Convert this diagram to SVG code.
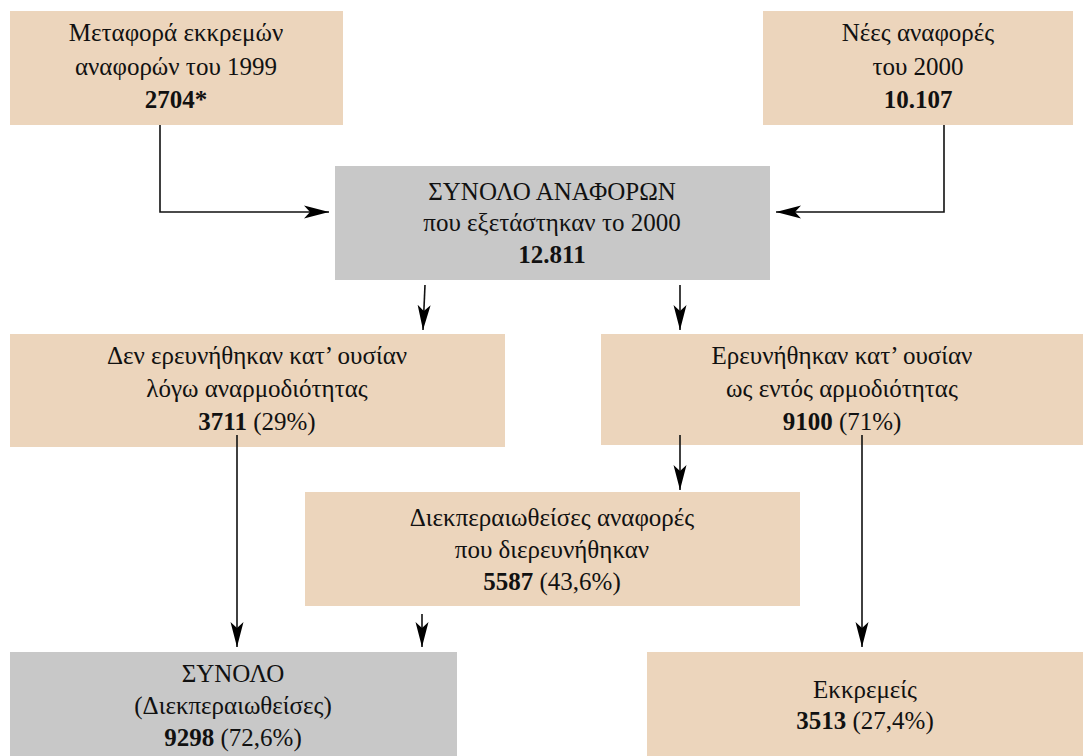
<svg xmlns="http://www.w3.org/2000/svg" width="1083" height="756" viewBox="0 0 1083 756">
<style>
.tan{fill:#ECD5BC}
.grey{fill:#C8C8C8}
text{font-family:"Liberation Serif","DejaVu Serif",serif;font-size:25px;fill:#111;text-anchor:middle}
.b{font-weight:bold}
.c{stroke:#111;stroke-width:1.6;fill:none;marker-end:url(#ah)}
</style>
<defs>
<marker id="ah" markerUnits="userSpaceOnUse" markerWidth="28" markerHeight="16" refX="25" refY="8" orient="auto">
<path d="M0,1.5 L25,8 L0,14.5 L6,8 z" fill="#000"/>
</marker>
</defs>
<rect width="1083" height="756" fill="#fff"/>
<g id="nodeA"><rect class="tan" x="10" y="11" width="333" height="114"/>
<text x="176" y="41">Μεταφορά εκκρεμών</text><text x="176" y="75">αναφορών του 1999</text><text x="176" y="108" class="b">2704*</text></g>
<g id="nodeB"><rect class="tan" x="763" y="11" width="310" height="114"/>
<text x="918" y="41">Νέες αναφορές</text><text x="918" y="75">του 2000</text><text x="918" y="108" class="b">10.107</text></g>
<g id="nodeC"><rect class="grey" x="335" y="166" width="435" height="114"/>
<text x="552" y="200">ΣΥΝΟΛΟ ΑΝΑΦΟΡΩΝ</text><text x="552" y="231">που εξετάστηκαν το 2000</text><text x="552" y="263" class="b">12.811</text></g>
<g id="nodeD"><rect class="tan" x="10" y="334" width="495" height="113"/>
<text x="257" y="364">Δεν ερευνήθηκαν κατ’ ουσίαν</text><text x="257" y="397">λόγω αναρμοδιότητας</text><text x="257" y="430"><tspan class="b">3711</tspan> (29%)</text></g>
<g id="nodeE"><rect class="tan" x="601" y="334" width="482" height="111"/>
<text x="842" y="364">Ερευνήθηκαν κατ’ ουσίαν</text><text x="842" y="397">ως εντός αρμοδιότητας</text><text x="842" y="430"><tspan class="b">9100</tspan> (71%)</text></g>
<g id="nodeF"><rect class="tan" x="305" y="492" width="495" height="114"/>
<text x="552" y="526">Διεκπεραιωθείσες αναφορές</text><text x="552" y="558">που διερευνήθηκαν</text><text x="552" y="590"><tspan class="b">5587</tspan> (43,6%)</text></g>
<g id="nodeG"><rect class="grey" x="10" y="652" width="447" height="104"/>
<text x="233" y="682">ΣΥΝΟΛΟ</text><text x="233" y="714">(Διεκπεραιωθείσες)</text><text x="233" y="746"><tspan class="b">9298</tspan> (72,6%)</text></g>
<g id="nodeH"><rect class="tan" x="647" y="652" width="436" height="104"/>
<text x="865" y="698">Εκκρεμείς</text><text x="865" y="729"><tspan class="b">3513</tspan> (27,4%)</text></g>
<g id="connectors">
<path class="c" d="M160,125 V212 H329"/>
<path class="c" d="M944,125 V212 H776"/>
<path class="c" d="M425,285 L423,330"/>
<path class="c" d="M680,285 V330"/>
<path class="c" d="M680,435 V490"/>
<path class="c" d="M862,435 V647"/>
<path class="c" d="M237,435 V647"/>
<path class="c" d="M422,614 V647"/>
</g>
</svg>
